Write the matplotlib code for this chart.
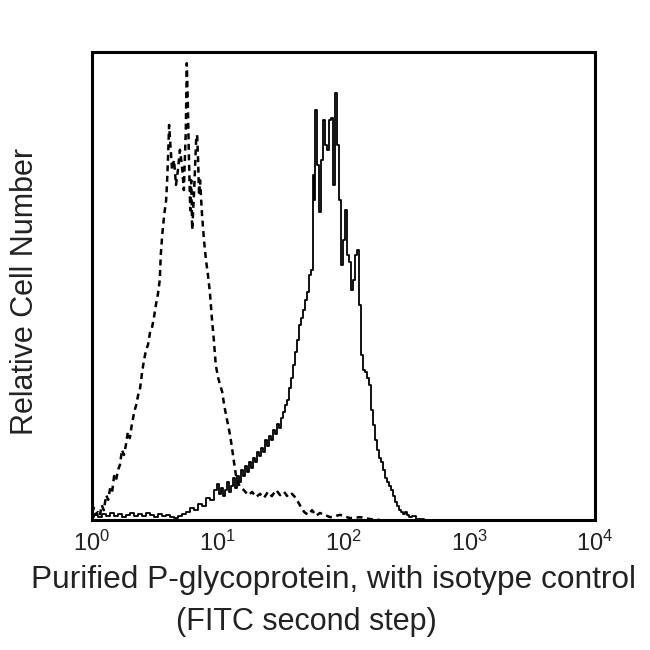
import matplotlib
matplotlib.use("Agg")
import matplotlib.pyplot as plt
import numpy as np

plt.rcParams['font.family'] = ['Liberation Sans', 'DejaVu Sans']
plt.rcParams['mathtext.default'] = 'regular'

# flow histogram data: channel (1024 ch over 4 decades) and relative counts
isotype_ch = [0, 4, 8, 12, 16, 20, 24, 29, 33, 37, 41, 45, 49, 53, 57, 61, 65, 69, 73, 77,
              81, 86, 90, 94, 98, 102, 106, 110, 114, 118, 122, 126, 130, 134, 138, 140, 143,
              147, 151, 153, 155, 157, 159, 163, 167, 171, 175, 179, 183, 187, 191, 193, 195,
              197, 200, 202, 204, 208, 212, 214, 216, 218, 220, 224, 228, 232, 236, 240, 244,
              248, 252, 257, 261, 265, 269, 273, 277, 281, 285, 289, 293, 297, 301, 309, 318,
              326, 334, 342, 350, 358, 366, 375, 383, 391, 399, 407, 415, 423, 432, 440, 448,
              456, 464, 485, 505, 525, 546, 566, 586]
isotype_cnt = [1.5, 2.6, 1.1, 1.7, 0.9, 3.2, 2.1, 5.3, 4.3, 6.8, 6.0, 9.4, 8.5, 10.7, 11.8, 15.0,
               13.9, 16.0, 18.8, 17.5, 20.3, 23.1, 24.6, 26.7, 28.2, 31.6, 34.2, 36.3, 37.4, 40.0,
               41.0, 43.2, 45.9, 48.1, 51.3, 56.6, 60.9, 65.2, 68.4, 72.6, 78.0, 84.4, 81.2, 74.8,
               76.9, 71.6, 74.8, 79.1, 75.9, 70.5, 83.3, 97.6, 89.7, 79.1, 66.2, 72.6, 62.0, 70.5,
               81.2, 82.3, 76.9, 69.4, 72.6, 65.2, 59.8, 55.6, 52.4, 48.7, 43.2, 38.5, 33.1, 30.3,
               28.8, 27.4, 24.6, 22.4, 20.3, 18.2, 15.4, 12.4, 9.6, 8.1, 7.1, 6.4, 5.3, 6.0, 4.9,
               5.6, 4.7, 6.0, 5.1, 6.4, 5.3, 6.0, 4.9, 5.6, 4.7, 3.2, 1.7, 1.1, 2.1, 0.9, 1.5, 0.6,
               1.1, 0.4, 0.6, 0.2, 0.0]

pgp_ch = [0, 8, 16, 24, 33, 41, 49, 57, 65, 73, 81, 90, 98, 106, 114, 122, 130, 138, 147, 155,
          163, 171, 179, 187, 195, 204, 212, 220, 228, 236, 244, 252, 257, 261, 265, 269, 273,
          277, 281, 285, 289, 293, 297, 301, 305, 309, 314, 318, 322, 326, 330, 334, 338, 342,
          346, 350, 354, 358, 362, 366, 371, 375, 379, 383, 387, 391, 395, 399, 403, 407, 411,
          415, 419, 423, 428, 432, 436, 440, 444, 448, 450, 452, 456, 460, 464, 468, 472, 476,
          480, 485, 489, 493, 497, 501, 505, 509, 513, 517, 521, 525, 529, 533, 538, 542, 546,
          550, 554, 558, 562, 566, 570, 574, 578, 582, 586, 590, 595, 599, 603, 607, 611, 615,
          619, 623, 627, 631, 635, 639, 643, 647, 656, 664, 688, 831, 1023]
pgp_cnt = [0.6, 1.1, 0.6, 1.3, 0.9, 1.5, 0.9, 1.3, 0.6, 1.1, 1.5, 0.9, 1.3, 0.9, 1.5, 1.1, 0.6,
           1.3, 0.9, 1.1, 0.6, 0.4, 0.9, 1.3, 1.7, 2.6, 2.1, 3.4, 3.0, 4.7, 4.3, 6.4, 7.7, 5.6,
           6.8, 5.1, 6.4, 8.1, 6.0, 7.3, 9.0, 6.8, 9.4, 8.1, 10.7, 9.4, 11.5, 10.3, 12.4, 11.1,
           13.2, 12.4, 14.5, 13.7, 15.4, 14.5, 17.1, 15.8, 17.9, 17.1, 19.2, 18.4, 20.5, 19.7,
           21.8, 23.1, 24.6, 25.6, 28.2, 30.3, 33.1, 35.9, 38.5, 41.7, 43.2, 44.9, 47.0, 48.7,
           52.4, 53.4, 73.7, 68.4, 87.6, 75.9, 65.8, 76.9, 85.5, 80.1, 79.1, 85.5, 85.9, 71.6,
           91.2, 80.1, 68.4, 54.5, 59.8, 66.2, 56.6, 55.1, 49.1, 51.3, 56.6, 57.7, 45.9, 35.3,
           32.1, 31.6, 30.3, 28.8, 23.5, 20.3, 17.1, 15.0, 13.2, 12.4, 10.7, 9.0, 8.1, 7.3, 6.4,
           5.1, 3.8, 3.0, 2.1, 1.7, 1.3, 1.7, 1.1, 0.6, 0.9, 0.2, 0.0, 0.0, 0.0]

decades = [0, 1, 2, 3, 4]
tick_labels = ["$10^{%d}$" % d for d in decades]

iso_x = 10 ** (np.array(isotype_ch) / 256.0)
pgp_x = 10 ** (np.array(pgp_ch) / 256.0)

fig = plt.figure(figsize=(6.5, 6.5), dpi=100)
ax = fig.add_axes([0.1415, 0.2, 0.774, 0.72])

ax.plot(pgp_x, pgp_cnt, color="black", lw=1.3, drawstyle="steps-mid")
ax.plot(iso_x, isotype_cnt, color="black", lw=1.8, linestyle=(0, (2.4, 1.8)))

ax.set_xscale("log")
ax.set_xlim(1, 1e4)
ax.set_ylim(0, 100)
ax.set_xticks([10 ** d for d in decades])
ax.set_xticklabels(tick_labels, fontsize=17)
ax.minorticks_off()
ax.set_yticks([])
ax.tick_params(axis="x", length=0, pad=8, colors="#222222")
for sp in ax.spines.values():
    sp.set_linewidth(2.2)

fig.text(0.038, 0.551, "Relative Cell Number", rotation=90, fontsize=22,
         ha="center", va="center", color="#222222")
fig.text(0.513, 0.108, "Purified P-glycoprotein, with isotype control", fontsize=22.8,
         ha="center", va="center", color="#222222")
fig.text(0.472, 0.043, "(FITC second step)", fontsize=22,
         ha="center", va="center", color="#222222")

fig.savefig("out.png", dpi=100, facecolor="white")
